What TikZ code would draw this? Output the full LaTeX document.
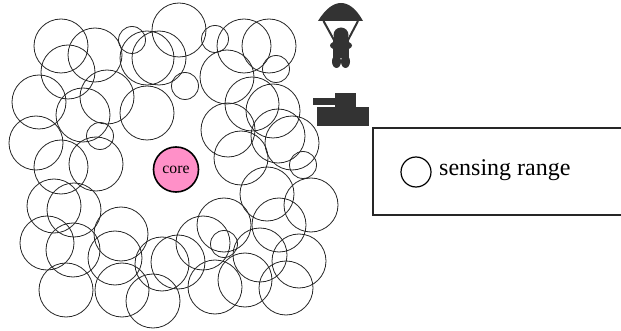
\documentclass[tikz,border=0pt]{standalone}
\usepackage{fontspec}
\setmainfont{Liberation Serif}
\definecolor{icon}{HTML}{333333}
\definecolor{corepink}{HTML}{FF90C8}
\tikzset{
  sensing/.style={draw=black!85,line width=0.8pt,circle,minimum size=54pt,inner sep=0pt},
  smallsensing/.style={sensing,minimum size=27pt},
  corenode/.style={draw=black,line width=1.6pt,circle,fill=corepink,minimum size=45pt,inner sep=0pt,font=\fontsize{15.7}{15.7}\selectfont},
  legendbox/.style={draw=black!85,line width=1.4pt},
  legendring/.style={draw=black,line width=1.2pt,circle,minimum size=30pt,inner sep=0pt},
  legendtext/.style={font=\fontsize{24}{24}\selectfont,inner sep=0pt,anchor=base west},
  iconfill/.style={fill=icon,draw=none}
}
\begin{document}
\begin{tikzpicture}[x=1pt,y=-1pt]
\useasboundingbox (0,0) rectangle (621,331);
% large sensor discs
\foreach \px/\py [count=\i] in {
  61/46, 95/55, 68/72, 39/102, 83/115, 107/97, 147/113, 147/58, 159/58, 179/30,
  36/143, 61/167, 96/164, 54/206, 74/210, 47/243, 73/250, 66/290, 121/234, 115/258,
  122/290, 162/264, 178/262, 153/301, 267/194, 311/205, 279/225, 224/225, 203/243,
  215/287, 245/280, 260/255, 299/261, 286/288, 244/46, 269/46, 227/77, 252/104,
  273/111, 228/130, 278/136, 292/143, 241/158}
  \node[sensing] (s\i) at (\px,\py) {};
% small sensor discs
\foreach \px/\py [count=\i] in {
  132/40, 185/86, 100/136, 224/244, 215/39, 276/69, 303/165}
  \node[smallsensing] (t\i) at (\px,\py) {};
\node[corenode] (core) at (176,169.5) {core};
% parachutist
\fill[iconfill] (318,21) .. controls (326,8) and (334,3) .. (341,3)
  .. controls (348,3) and (356,8) .. (363,21) -- cycle;
\draw[icon,line width=2pt] (323.5,21) -- (334,40) (358,21) -- (348,40);
\fill[iconfill] (341,35) circle[radius=7.5];
\fill[iconfill] (341,45.5) ellipse[x radius=11,y radius=5];
\fill[iconfill] (333,38) rectangle (349,58);
\fill[iconfill] (336.5,61.5) ellipse[x radius=4.5,y radius=6.5];
\fill[iconfill] (345.5,61.5) ellipse[x radius=4.5,y radius=6.5];
% tank
\fill[iconfill] (313,98) rectangle (336,105);
\fill[iconfill] (335,93) rectangle (356,108);
\fill[iconfill] (317,107) rectangle (369,126);
% legend
\draw[legendbox] (621,128) -- (373,128) -- (373,215) -- (621,215);
\node[legendring] (ring) at (416,172) {};
\node[legendtext] (rangelabel) at (439,175.5) {sensing range};
\end{tikzpicture}
\end{document}
